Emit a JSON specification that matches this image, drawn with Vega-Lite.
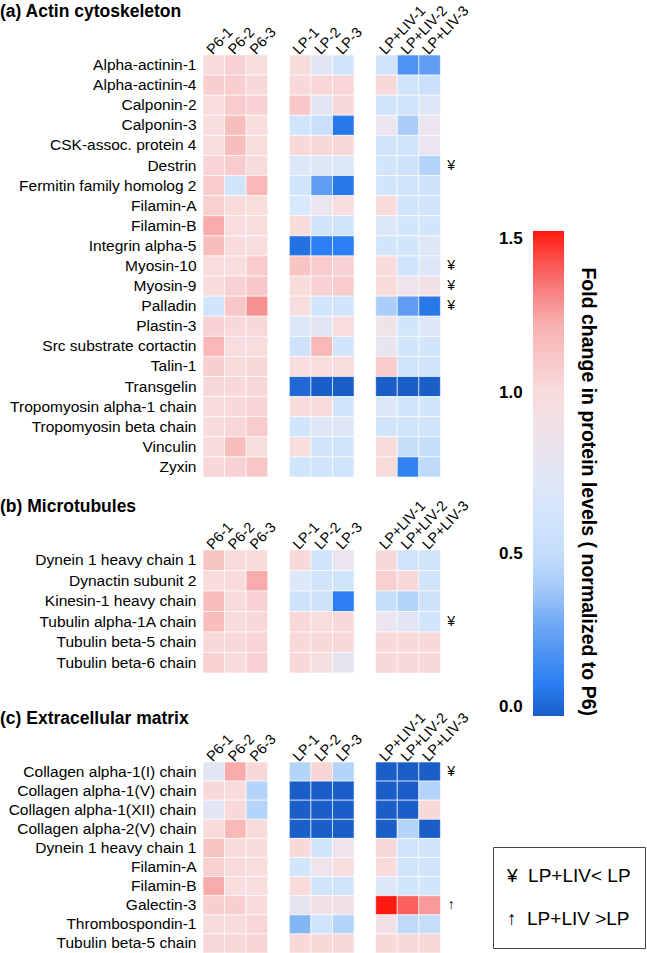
{
  "$schema": "https://vega.github.io/schema/vega-lite/v6.json",
  "padding": {"top": 2, "left": 0, "right": 0, "bottom": 0},
  "background": "white",
  "config": {
    "font": "Liberation Sans",
    "view": {"stroke": null},
    "axis": {"labelColor": "black", "ticks": false, "domain": false, "title": null, "grid": false},
    "title": {"color": "black"}
  },
  "datasets": {
    "actin": [
      {"p": "Alpha-actinin-1", "P6-1": 1.0, "P6-2": 1.05, "P6-3": 0.98, "LP-1": 1.0, "LP-2": 0.75, "LP-3": 0.6, "LP+LIV-1": 0.6, "LP+LIV-2": 0.2, "LP+LIV-3": 0.25, "m": ""},
      {"p": "Alpha-actinin-4", "P6-1": 1.07, "P6-2": 1.07, "P6-3": 1.02, "LP-1": 1.02, "LP-2": 1.03, "LP-3": 1.03, "LP+LIV-1": 1.02, "LP+LIV-2": 0.6, "LP+LIV-3": 0.55, "m": ""},
      {"p": "Calponin-2", "P6-1": 0.98, "P6-2": 1.08, "P6-3": 1.05, "LP-1": 1.1, "LP-2": 0.75, "LP-3": 1.02, "LP+LIV-1": 0.6, "LP+LIV-2": 0.6, "LP+LIV-3": 0.72, "m": ""},
      {"p": "Calponin-3", "P6-1": 0.98, "P6-2": 1.15, "P6-3": 0.98, "LP-1": 0.6, "LP-2": 0.55, "LP-3": 0.08, "LP+LIV-1": 0.82, "LP+LIV-2": 0.42, "LP+LIV-3": 0.82, "m": ""},
      {"p": "CSK-assoc. protein 4", "P6-1": 0.98, "P6-2": 1.15, "P6-3": 0.98, "LP-1": 1.02, "LP-2": 1.02, "LP-3": 1.02, "LP+LIV-1": 0.6, "LP+LIV-2": 0.6, "LP+LIV-3": 0.82, "m": ""},
      {"p": "Destrin", "P6-1": 1.04, "P6-2": 1.08, "P6-3": 1.0, "LP-1": 0.7, "LP-2": 0.72, "LP-3": 0.7, "LP+LIV-1": 0.62, "LP+LIV-2": 0.58, "LP+LIV-3": 0.45, "m": "¥"},
      {"p": "Fermitin family homolog 2", "P6-1": 1.08, "P6-2": 0.6, "P6-3": 1.18, "LP-1": 0.6, "LP-2": 0.25, "LP-3": 0.08, "LP+LIV-1": 0.62, "LP+LIV-2": 0.6, "LP+LIV-3": 0.58, "m": ""},
      {"p": "Filamin-A", "P6-1": 1.06, "P6-2": 1.0, "P6-3": 0.98, "LP-1": 0.65, "LP-2": 0.82, "LP-3": 0.98, "LP+LIV-1": 1.0, "LP+LIV-2": 0.6, "LP+LIV-3": 0.6, "m": ""},
      {"p": "Filamin-B", "P6-1": 1.22, "P6-2": 0.98, "P6-3": 0.98, "LP-1": 1.0, "LP-2": 0.6, "LP-3": 0.6, "LP+LIV-1": 0.7, "LP+LIV-2": 0.62, "LP+LIV-3": 0.62, "m": ""},
      {"p": "Integrin alpha-5", "P6-1": 1.15, "P6-2": 1.0, "P6-3": 0.98, "LP-1": 0.06, "LP-2": 0.1, "LP-3": 0.1, "LP+LIV-1": 0.62, "LP+LIV-2": 0.62, "LP+LIV-3": 0.72, "m": ""},
      {"p": "Myosin-10", "P6-1": 0.98, "P6-2": 0.98, "P6-3": 1.08, "LP-1": 1.12, "LP-2": 1.08, "LP-3": 1.05, "LP+LIV-1": 1.0, "LP+LIV-2": 0.6, "LP+LIV-3": 0.72, "m": "¥"},
      {"p": "Myosin-9", "P6-1": 1.0, "P6-2": 1.05, "P6-3": 1.1, "LP-1": 1.0, "LP-2": 1.05, "LP-3": 1.08, "LP+LIV-1": 1.0, "LP+LIV-2": 0.85, "LP+LIV-3": 0.9, "m": "¥"},
      {"p": "Palladin", "P6-1": 0.6, "P6-2": 1.1, "P6-3": 1.28, "LP-1": 0.98, "LP-2": 0.6, "LP-3": 0.6, "LP+LIV-1": 0.42, "LP+LIV-2": 0.25, "LP+LIV-3": 0.08, "m": "¥"},
      {"p": "Plastin-3", "P6-1": 1.05, "P6-2": 1.02, "P6-3": 1.02, "LP-1": 0.7, "LP-2": 0.75, "LP-3": 0.98, "LP+LIV-1": 0.88, "LP+LIV-2": 0.62, "LP+LIV-3": 0.72, "m": ""},
      {"p": "Src substrate cortactin", "P6-1": 1.18, "P6-2": 0.98, "P6-3": 0.98, "LP-1": 0.58, "LP-2": 1.18, "LP-3": 0.6, "LP+LIV-1": 0.8, "LP+LIV-2": 0.62, "LP+LIV-3": 0.62, "m": ""},
      {"p": "Talin-1", "P6-1": 1.07, "P6-2": 1.0, "P6-3": 1.02, "LP-1": 0.98, "LP-2": 0.98, "LP-3": 0.98, "LP+LIV-1": 1.08, "LP+LIV-2": 0.6, "LP+LIV-3": 0.6, "m": ""},
      {"p": "Transgelin", "P6-1": 1.02, "P6-2": 1.02, "P6-3": 1.02, "LP-1": 0.03, "LP-2": 0.0, "LP-3": 0.0, "LP+LIV-1": 0.0, "LP+LIV-2": 0.0, "LP+LIV-3": 0.0, "m": ""},
      {"p": "Tropomyosin alpha-1 chain", "P6-1": 1.0, "P6-2": 1.02, "P6-3": 1.04, "LP-1": 1.0, "LP-2": 1.0, "LP-3": 0.62, "LP+LIV-1": 0.7, "LP+LIV-2": 0.62, "LP+LIV-3": 0.62, "m": ""},
      {"p": "Tropomyosin beta chain", "P6-1": 1.0, "P6-2": 1.03, "P6-3": 1.08, "LP-1": 0.6, "LP-2": 0.72, "LP-3": 0.72, "LP+LIV-1": 0.6, "LP+LIV-2": 0.6, "LP+LIV-3": 0.6, "m": ""},
      {"p": "Vinculin", "P6-1": 1.0, "P6-2": 1.15, "P6-3": 0.98, "LP-1": 0.98, "LP-2": 0.6, "LP-3": 0.6, "LP+LIV-1": 1.0, "LP+LIV-2": 0.52, "LP+LIV-3": 0.52, "m": ""},
      {"p": "Zyxin", "P6-1": 1.02, "P6-2": 1.05, "P6-3": 1.1, "LP-1": 0.6, "LP-2": 0.6, "LP-3": 0.6, "LP+LIV-1": 1.0, "LP+LIV-2": 0.12, "LP+LIV-3": 0.48, "m": ""}
    ],
    "micro": [
      {"p": "Dynein 1 heavy chain 1", "P6-1": 1.12, "P6-2": 1.0, "P6-3": 1.0, "LP-1": 1.02, "LP-2": 0.6, "LP-3": 0.82, "LP+LIV-1": 1.02, "LP+LIV-2": 0.6, "LP+LIV-3": 0.6, "m": ""},
      {"p": "Dynactin subunit 2", "P6-1": 1.0, "P6-2": 1.0, "P6-3": 1.22, "LP-1": 0.7, "LP-2": 0.6, "LP-3": 0.6, "LP+LIV-1": 1.06, "LP+LIV-2": 1.02, "LP+LIV-3": 0.6, "m": ""},
      {"p": "Kinesin-1 heavy chain", "P6-1": 1.15, "P6-2": 1.0, "P6-3": 1.05, "LP-1": 0.58, "LP-2": 0.58, "LP-3": 0.1, "LP+LIV-1": 0.52, "LP+LIV-2": 0.45, "LP+LIV-3": 0.58, "m": ""},
      {"p": "Tubulin alpha-1A chain", "P6-1": 1.15, "P6-2": 1.0, "P6-3": 1.02, "LP-1": 1.02, "LP-2": 0.98, "LP-3": 1.02, "LP+LIV-1": 0.82, "LP+LIV-2": 0.75, "LP+LIV-3": 0.6, "m": "¥"},
      {"p": "Tubulin beta-5 chain", "P6-1": 1.02, "P6-2": 1.02, "P6-3": 1.04, "LP-1": 1.02, "LP-2": 1.02, "LP-3": 1.02, "LP+LIV-1": 1.02, "LP+LIV-2": 1.02, "LP+LIV-3": 1.02, "m": ""},
      {"p": "Tubulin beta-6 chain", "P6-1": 1.06, "P6-2": 1.0, "P6-3": 1.05, "LP-1": 1.02, "LP-2": 0.95, "LP-3": 0.78, "LP+LIV-1": 1.02, "LP+LIV-2": 1.02, "LP+LIV-3": 1.02, "m": ""}
    ],
    "ecm": [
      {"p": "Collagen alpha-1(I) chain", "P6-1": 0.75, "P6-2": 1.22, "P6-3": 1.02, "LP-1": 0.45, "LP-2": 1.04, "LP-3": 0.45, "LP+LIV-1": 0.0, "LP+LIV-2": 0.0, "LP+LIV-3": 0.0, "m": "¥"},
      {"p": "Collagen alpha-1(V) chain", "P6-1": 1.02, "P6-2": 1.0, "P6-3": 0.45, "LP-1": 0.0, "LP-2": 0.0, "LP-3": 0.0, "LP+LIV-1": 0.0, "LP+LIV-2": 0.0, "LP+LIV-3": 0.45, "m": ""},
      {"p": "Collagen alpha-1(XII) chain", "P6-1": 0.75, "P6-2": 1.02, "P6-3": 0.45, "LP-1": 0.0, "LP-2": 0.0, "LP-3": 0.0, "LP+LIV-1": 0.0, "LP+LIV-2": 0.0, "LP+LIV-3": 1.02, "m": ""},
      {"p": "Collagen alpha-2(V) chain", "P6-1": 1.0, "P6-2": 1.18, "P6-3": 1.0, "LP-1": 0.0, "LP-2": 0.0, "LP-3": 0.0, "LP+LIV-1": 0.0, "LP+LIV-2": 0.45, "LP+LIV-3": 0.0, "m": ""},
      {"p": "Dynein 1 heavy chain 1", "P6-1": 1.12, "P6-2": 1.0, "P6-3": 1.0, "LP-1": 1.02, "LP-2": 0.6, "LP-3": 0.85, "LP+LIV-1": 1.02, "LP+LIV-2": 0.6, "LP+LIV-3": 0.6, "m": ""},
      {"p": "Filamin-A", "P6-1": 1.06, "P6-2": 1.0, "P6-3": 0.98, "LP-1": 0.62, "LP-2": 0.85, "LP-3": 0.98, "LP+LIV-1": 1.0, "LP+LIV-2": 0.6, "LP+LIV-3": 0.6, "m": ""},
      {"p": "Filamin-B", "P6-1": 1.22, "P6-2": 0.98, "P6-3": 0.98, "LP-1": 1.0, "LP-2": 0.6, "LP-3": 0.6, "LP+LIV-1": 0.7, "LP+LIV-2": 0.62, "LP+LIV-3": 0.62, "m": ""},
      {"p": "Galectin-3", "P6-1": 1.07, "P6-2": 1.07, "P6-3": 1.0, "LP-1": 0.78, "LP-2": 0.9, "LP-3": 0.9, "LP+LIV-1": 1.5, "LP+LIV-2": 1.38, "LP+LIV-3": 1.26, "m": "↑"},
      {"p": "Thrombospondin-1", "P6-1": 1.0, "P6-2": 1.0, "P6-3": 1.03, "LP-1": 0.33, "LP-2": 0.6, "LP-3": 0.45, "LP+LIV-1": 0.9, "LP+LIV-2": 0.48, "LP+LIV-3": 0.52, "m": ""},
      {"p": "Tubulin beta-5 chain", "P6-1": 1.02, "P6-2": 1.02, "P6-3": 1.04, "LP-1": 1.02, "LP-2": 1.02, "LP-3": 1.02, "LP+LIV-1": 1.02, "LP+LIV-2": 1.02, "LP+LIV-3": 1.02, "m": ""}
    ]
  },
  "spacing": 19,
  "vconcat": [
    {
      "title": {"text": "(a) Actin cytoskeleton", "anchor": "start", "frame": "group", "dx": -203, "dy": 22, "fontSize": 17.5, "fontWeight": "bold"},
      "width": 259,
      "height": 422,
      "data": {"name": "actin"},
      "transform": [{"fold": ["P6-1", "P6-2", "P6-3", "LP-1", "LP-2", "LP-3", "LP+LIV-1", "LP+LIV-2", "LP+LIV-3"], "as": ["s", "v"]}],
      "layer": [
        {
          "mark": {"type": "rect", "stroke": "white", "strokeWidth": 0.6},
          "encoding": {
            "x": {"field": "s", "type": "nominal", "scale": {"domain": ["P6-1", "P6-2", "P6-3", "g1", "LP-1", "LP-2", "LP-3", "g2", "LP+LIV-1", "LP+LIV-2", "LP+LIV-3", "mk"], "paddingInner": 0, "paddingOuter": 0},
              "axis": {"orient": "top", "labelAngle": -47, "labelFontSize": 14.5, "labelPadding": 3, "labelOffset": -4, "labelExpr": "length(datum.value) <= 2 ? '' : datum.value"}},
            "y": {"field": "p", "type": "nominal", "sort": null, "axis": {"labelFontSize": 15.5, "labelPadding": 7, "labelLimit": 300}},
            "color": {"field": "v", "type": "quantitative",
              "scale": {"domain": [0, 0.1, 0.25, 0.4, 0.5, 0.65, 0.85, 1.0, 1.2, 1.35, 1.5], "range": ["#1a5ec8", "#2b7ff2", "#5f9ef3", "#a5cbf8", "#c4dcfa", "#d6e8fb", "#ede4ec", "#f8dcdc", "#f8b4b4", "#f87272", "#ff1a10"], "clamp": true, "interpolate": "rgb"},
              "legend": {"orient": "none", "legendX": 330, "legendY": 176, "direction": "vertical", "gradientLength": 485, "gradientThickness": 31, "gradientStrokeWidth": 0, "values": [0, 0.5, 1, 1.5], "format": ".1f", "labelFontSize": 17, "labelFontWeight": "bold", "labelAlign": "left", "labelOffset": -65, "labelBaseline": "middle", "labelColor": "black", "labelOverlap": false, "title": "Fold change in protein levels ( normalized to P6)", "titleOrient": "right", "titleAngle": 90, "titleFontSize": 19.5, "titleFontWeight": "bold", "titleColor": "black", "titleAnchor": "start", "titlePadding": 14, "titleLimit": 700, "padding": 0}}
          }
        },
        {
          "transform": [{"filter": "datum.s == 'LP+LIV-3' && datum.m != ''"}],
          "mark": {"type": "text", "fontSize": 14, "align": "center", "baseline": "middle", "color": "black"},
          "encoding": {
            "x": {"datum": "mk", "type": "nominal"},
            "y": {"field": "p", "type": "nominal", "sort": null},
            "text": {"field": "m"}
          }
        }
      ]
    },
    {
      "spacing": 35,
      "vconcat": [
        {
          "title": {"text": "(b) Microtubules", "anchor": "start", "frame": "group", "dx": -203, "dy": 22, "fontSize": 17.5, "fontWeight": "bold"},
          "width": 259,
          "height": 123,
          "data": {"name": "micro"},
          "transform": [{"fold": ["P6-1", "P6-2", "P6-3", "LP-1", "LP-2", "LP-3", "LP+LIV-1", "LP+LIV-2", "LP+LIV-3"], "as": ["s", "v"]}],
          "layer": [
            {
              "mark": {"type": "rect", "stroke": "white", "strokeWidth": 0.6},
              "encoding": {
                "x": {"field": "s", "type": "nominal", "scale": {"domain": ["P6-1", "P6-2", "P6-3", "g1", "LP-1", "LP-2", "LP-3", "g2", "LP+LIV-1", "LP+LIV-2", "LP+LIV-3", "mk"], "paddingInner": 0, "paddingOuter": 0},
                  "axis": {"orient": "top", "labelAngle": -47, "labelFontSize": 14.5, "labelPadding": 3, "labelOffset": -4, "labelExpr": "length(datum.value) <= 2 ? '' : datum.value"}},
                "y": {"field": "p", "type": "nominal", "sort": null, "axis": {"labelFontSize": 15.5, "labelPadding": 7, "labelLimit": 300}},
                "color": {"field": "v", "type": "quantitative",
                  "scale": {"domain": [0, 0.1, 0.25, 0.4, 0.5, 0.65, 0.85, 1.0, 1.2, 1.35, 1.5], "range": ["#1a5ec8", "#2b7ff2", "#5f9ef3", "#a5cbf8", "#c4dcfa", "#d6e8fb", "#ede4ec", "#f8dcdc", "#f8b4b4", "#f87272", "#ff1a10"], "clamp": true, "interpolate": "rgb"}}
              }
            },
            {
              "transform": [{"filter": "datum.s == 'LP+LIV-3' && datum.m != ''"}],
              "mark": {"type": "text", "fontSize": 14, "align": "center", "baseline": "middle", "color": "black"},
              "encoding": {
                "x": {"datum": "mk", "type": "nominal"},
                "y": {"field": "p", "type": "nominal", "sort": null},
                "text": {"field": "m"}
              }
            }
          ]
        },
        {
          "title": {"text": "(c) Extracellular matrix", "anchor": "start", "frame": "group", "dx": -203, "dy": 22, "fontSize": 17.5, "fontWeight": "bold"},
          "width": 259,
          "height": 191,
          "data": {"name": "ecm"},
          "transform": [{"fold": ["P6-1", "P6-2", "P6-3", "LP-1", "LP-2", "LP-3", "LP+LIV-1", "LP+LIV-2", "LP+LIV-3"], "as": ["s", "v"]}],
          "layer": [
            {
              "mark": {"type": "rect", "stroke": "white", "strokeWidth": 0.6},
              "encoding": {
                "x": {"field": "s", "type": "nominal", "scale": {"domain": ["P6-1", "P6-2", "P6-3", "g1", "LP-1", "LP-2", "LP-3", "g2", "LP+LIV-1", "LP+LIV-2", "LP+LIV-3", "mk"], "paddingInner": 0, "paddingOuter": 0},
                  "axis": {"orient": "top", "labelAngle": -47, "labelFontSize": 14.5, "labelPadding": 3, "labelOffset": -4, "labelExpr": "length(datum.value) <= 2 ? '' : datum.value"}},
                "y": {"field": "p", "type": "nominal", "sort": null, "axis": {"labelFontSize": 15.5, "labelPadding": 7, "labelLimit": 300}},
                "color": {"field": "v", "type": "quantitative",
                  "scale": {"domain": [0, 0.1, 0.25, 0.4, 0.5, 0.65, 0.85, 1.0, 1.2, 1.35, 1.5], "range": ["#1a5ec8", "#2b7ff2", "#5f9ef3", "#a5cbf8", "#c4dcfa", "#d6e8fb", "#ede4ec", "#f8dcdc", "#f8b4b4", "#f87272", "#ff1a10"], "clamp": true, "interpolate": "rgb"}}
              }
            },
            {
              "transform": [{"filter": "datum.s == 'LP+LIV-3' && datum.m != ''"}],
              "mark": {"type": "text", "fontSize": 14, "align": "center", "baseline": "middle", "color": "black"},
              "encoding": {
                "x": {"datum": "mk", "type": "nominal"},
                "y": {"field": "p", "type": "nominal", "sort": null},
                "text": {"field": "m"}
              }
            },
            {
              "transform": [{"filter": "datum.s == 'LP+LIV-3' && datum.m != ''"}],
              "mark": {"type": "point", "opacity": 0},
              "encoding": {
                "x": {"datum": "mk", "type": "nominal"},
                "y": {"field": "p", "type": "nominal", "sort": null},
                "shape": {"field": "m", "type": "nominal", "scale": {"domain": ["¥", "↑"]},
                  "legend": {"orient": "none", "legendX": 290, "legendY": 792, "title": null, "strokeColor": "#444", "padding": 14, "rowPadding": 13, "symbolSize": 900, "symbolOpacity": 0, "symbolStrokeWidth": 0, "labelOffset": -30, "labelFontSize": 19, "labelColor": "black", "labelLimit": 300,
                    "labelExpr": "datum.value == '¥' ? '¥\u00a0\u00a0LP+LIV< LP' : '↑\u00a0\u00a0LP+LIV >LP'"}}
              }
            }
          ]
        }
      ]
    }
  ]
}
